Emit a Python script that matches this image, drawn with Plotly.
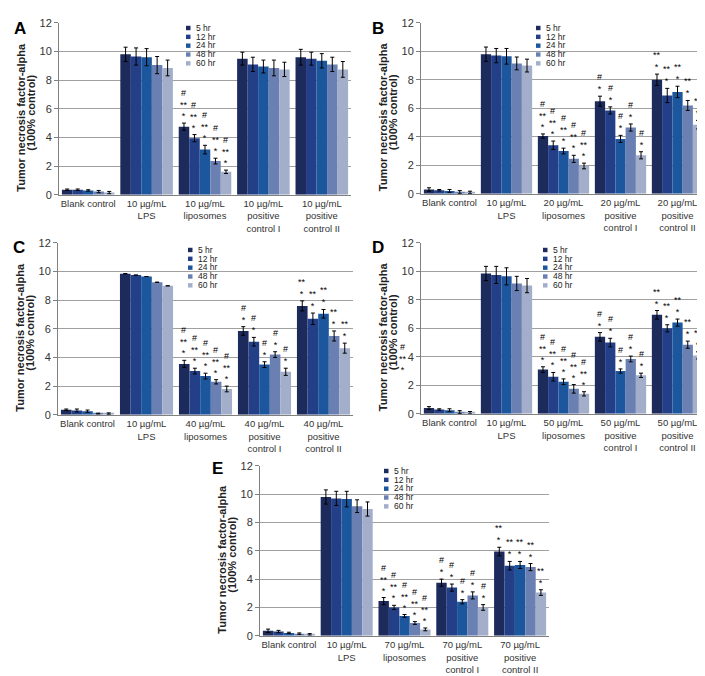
import plotly.graph_objects as go

W, H = 705, 676

panels = ["A", "B", "C", "D", "E"]
doses = [10, 20, 40, 50, 70]
series = ["5 hr", "12 hr", "24 hr", "48 hr", "60 hr"]
colors = ["#1c2a5c", "#233f88", "#1c579e", "#6b80b2", "#a3afca"]

# rows: blank, LPS, liposomes, positive control I, positive control II ; cols: 5,12,24,48,60 hr
a_vals = [[0.35, 0.35, 0.3, 0.22, 0.15],
          [9.8, 9.65, 9.6, 9.05, 8.85],
          [4.75, 3.95, 3.15, 2.35, 1.6],
          [9.5, 9.1, 8.95, 8.85, 8.75],
          [9.6, 9.5, 9.35, 9.1, 8.75]]
a_err = [[0.05, 0.05, 0.05, 0.08, 0.08],
         [0.5, 0.6, 0.6, 0.6, 0.55],
         [0.25, 0.25, 0.3, 0.2, 0.12],
         [0.45, 0.5, 0.45, 0.55, 0.5],
         [0.55, 0.45, 0.5, 0.5, 0.55]]

b_vals = [[0.3, 0.25, 0.2, 0.12, 0.1],
          [9.8, 9.7, 9.65, 9.15, 9.0],
          [4.05, 3.4, 3.0, 2.45, 1.95],
          [6.5, 5.85, 3.85, 4.65, 2.7],
          [8.0, 6.9, 7.15, 6.2, 4.85]]
b_err = [[0.12, 0.05, 0.1, 0.1, 0.08],
         [0.5, 0.5, 0.55, 0.45, 0.45],
         [0.15, 0.3, 0.2, 0.25, 0.2],
         [0.35, 0.25, 0.25, 0.25, 0.25],
         [0.4, 0.5, 0.4, 0.35, 0.3]]

c_vals = [[0.35, 0.3, 0.25, 0.08, 0.08],
          [9.85, 9.75, 9.65, 9.25, 9.0],
          [3.55, 3.05, 2.7, 2.3, 1.8],
          [5.85, 5.1, 3.5, 4.2, 3.0],
          [7.6, 6.7, 7.05, 5.5, 4.65]]
c_err = [[0.05, 0.1, 0.08, 0.03, 0.05],
         [None, None, None, None, None],
         [0.25, 0.2, 0.2, 0.15, 0.2],
         [0.3, 0.3, 0.2, 0.2, 0.25],
         [0.35, 0.4, 0.3, 0.35, 0.35]]

d_vals = [[0.4, 0.3, 0.25, 0.12, 0.08],
          [9.85, 9.75, 9.65, 9.15, 9.0],
          [3.1, 2.6, 2.25, 1.75, 1.4],
          [5.4, 5.0, 3.0, 3.85, 2.7],
          [6.95, 6.0, 6.4, 4.85, 4.1]]
d_err = [[0.1, 0.05, 0.1, 0.1, 0.08],
         [0.5, 0.6, 0.6, 0.5, 0.5],
         [0.2, 0.3, 0.2, 0.3, 0.15],
         [0.3, 0.3, 0.15, 0.2, 0.15],
         [0.3, 0.25, 0.25, 0.25, 0.25]]

e_vals = [[0.35, 0.3, 0.2, 0.15, 0.1],
          [9.8, 9.7, 9.65, 9.15, 8.95],
          [2.45, 2.0, 1.4, 0.9, 0.45],
          [3.75, 3.4, 2.4, 2.85, 2.0],
          [5.95, 4.95, 5.0, 4.85, 3.05]]
e_err = [[0.12, 0.08, 0.05, 0.05, 0.05],
         [0.5, 0.5, 0.55, 0.45, 0.5],
         [0.25, 0.15, 0.1, 0.1, 0.1],
         [0.25, 0.25, 0.15, 0.25, 0.2],
         [0.3, 0.3, 0.25, 0.25, 0.2]]

# significance marks per category (same for every time point in a group)
a_sig = [None, None, "#<br>**<br>*", None, None]
bcde_sig = [None, None, "#<br>**<br>*", "#<br>*", "**<br>*"]
sig_marks = [a_sig, bcde_sig, bcde_sig, bcde_sig, bcde_sig]

all_vals = [a_vals, b_vals, c_vals, d_vals, e_vals]
all_err = [a_err, b_err, c_err, d_err, e_err]

# plot boxes in pixels: left, right, top, bottom
boxes = [(51, 343, 9, 184), (413, 698, 9, 183), (50, 345, 233, 408),
         (413, 698, 233, 407), (252, 541, 460, 633)]
letter_pos = [(12, 15), (370, 15), (11, 238), (370, 238), (209, 463)]
legend_pos = [(180, 14), (530, 14), (182, 240), (537, 240), (378, 465)]

FONT = "Liberation Sans, Arial, sans-serif"
bargap = 0.1
bw = (1 - bargap) / 5

fig = go.Figure()
layout = dict(width=W, height=H, margin=dict(l=0, r=0, t=0, b=0),
              paper_bgcolor="white", plot_bgcolor="white",
              barmode="group", bargap=bargap, bargroupgap=0,
              showlegend=False, font=dict(family=FONT, color="#333333"))
annotations, shapes = [], []


def paper_text(px, py, text, size, color="black", angle=0, xanchor="center"):
    return dict(x=px / W, y=1 - py / H, xref="paper", yref="paper", text=text,
                xanchor=xanchor, yanchor="middle", textangle=angle, showarrow=False,
                font=dict(size=size, color=color, family=FONT))


for k, p in enumerate(panels):
    sfx = "" if k == 0 else str(k + 1)
    dose = doses[k]
    cats = ["Blank control", "10 µg/mL<br>LPS", f"{dose} µg/mL<br>liposomes",
            f"{dose} µg/mL<br>positive<br>control I", f"{dose} µg/mL<br>positive<br>control II"]
    vals, errs = all_vals[k], all_err[k]
    for j, s in enumerate(series):
        ys = [vals[c][j] for c in range(5)]
        es = [errs[c][j] for c in range(5)]
        fig.add_trace(go.Bar(x=cats, y=ys, name=s, marker_color=colors[j],
                             marker_line_width=0,
                             error_y=dict(type="data", array=es, color="black",
                                          thickness=1, width=2),
                             xaxis="x" + sfx, yaxis="y" + sfx))
        # significance marks above each bar
        for c in range(5):
            mark = sig_marks[k][c]
            if mark:
                top = ys[c] + (es[c] or 0)
                annotations.append(dict(x=c + (j - 2) * bw, y=top, xref="x" + sfx, yref="y" + sfx,
                                        text=mark, showarrow=False, xanchor="center", yanchor="bottom",
                                        font=dict(size=9, color="black", family=FONT)))
    l, r, t, b = boxes[k]
    layout["xaxis" + sfx] = dict(domain=[l / W, r / W], anchor="y" + sfx,
                                 showline=True, linecolor="#808080", ticks="",
                                 tickfont=dict(size=9.5, color="#333333"))
    layout["yaxis" + sfx] = dict(domain=[1 - b / H, 1 - t / H], anchor="x" + sfx,
                                 range=[0, 12], dtick=2, showgrid=True, gridcolor="#a0a0a0",
                                 zeroline=False, showline=True, linecolor="#808080",
                                 ticks="outside", ticklen=4, tickcolor="#808080",
                                 tickfont=dict(size=11, color="#333333"))
    # panel letter
    lx, ly = letter_pos[k]
    annotations.append(paper_text(lx, ly, f"<b>{p}</b>", 17))
    # y title (two lines)
    yc = (t + b) / 2
    annotations.append(paper_text(l - 38, yc + 9, "<b>Tumor necrosis factor-alpha</b>", 11,
                                  "#222222", -90))
    annotations.append(paper_text(l - 28, yc + 4, "<b>(100% control)</b>", 11, "#222222", -90))
    # legend
    gx, gy = legend_pos[k]
    for j, s in enumerate(series):
        yy = gy + 9 * j
        shapes.append(dict(type="rect", xref="paper", yref="paper",
                           x0=(gx - 2) / W, x1=(gx + 2.5) / W, y0=1 - (yy + 2.5) / H, y1=1 - (yy - 2) / H,
                           fillcolor=colors[j], line=dict(width=0)))
        annotations.append(paper_text(gx + 6, yy, s, 8.5, "#222222", xanchor="left"))

# stray marks beside panel D axis title
annotations.append(paper_text(395, 351, "#<br>**<br>*", 9))

layout["annotations"] = annotations
layout["shapes"] = shapes
fig.update_layout(**layout)
fig.write_html("out.html")
